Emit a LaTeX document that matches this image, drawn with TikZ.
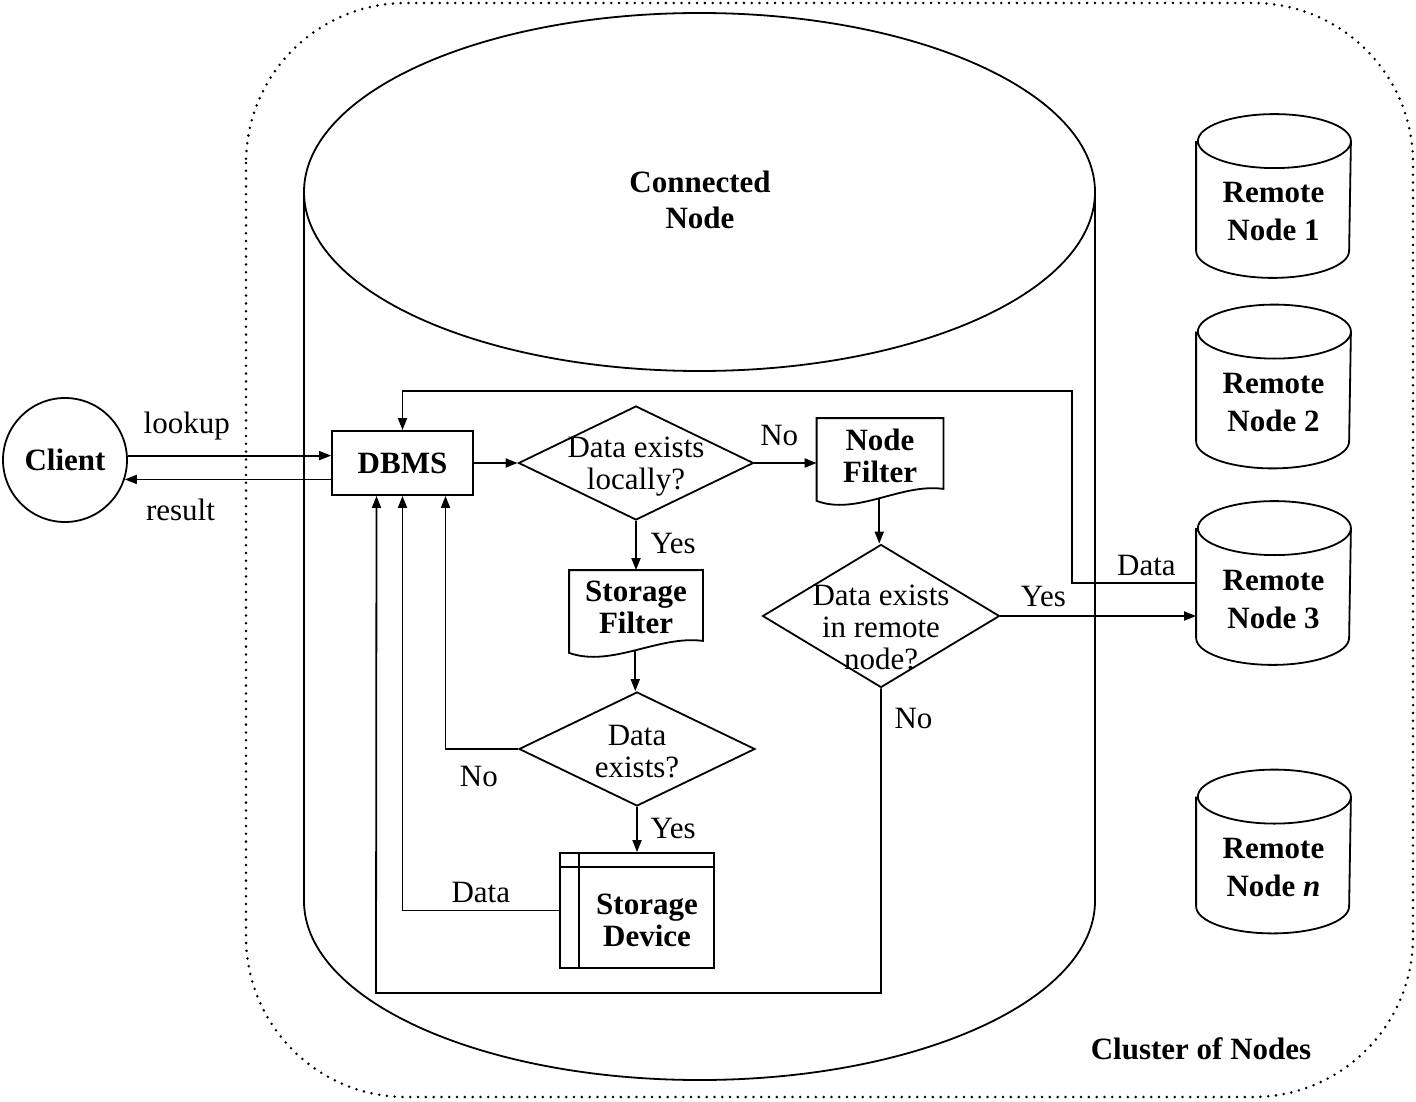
\documentclass[tikz,border=0pt]{standalone}
\usepackage{fontspec}
\setmainfont{Liberation Serif}
\usetikzlibrary{arrows.meta,
                positioning,
                shapes.geometric
            }

\begin{document}
\begin{tikzpicture}[x=0.5pt, y=-0.5pt, line width=0.9pt,
        font=\fontsize{15.5pt}{16pt}\selectfont,
        arr/.style={-{Triangle[length=6pt, width=4.5pt]}},
        bold/.style={font=\fontsize{15.5pt}{16pt}\selectfont\bfseries, align=center},
        title/.style={font=\fontsize{15.5pt}{19pt}\selectfont\bfseries, align=center},
        txt/.style={align=center},
        decision/.style={diamond, draw, inner sep=0pt},
        remote/.style={minimum width=76.5pt, minimum height=54pt, inner sep=0pt}]
            \useasboundingbox (0,0) rectangle (1416,1101);

            % cluster of nodes
            \draw[rounded corners=80pt, line width=1.4pt, line cap=round, dash pattern=on 0pt off 3.9pt] (246,3) rectangle (1413,1097);
            \node[bold] (cluster) at (1201,1049) {Cluster of Nodes};

            % connected node
            \draw (699.5,192) ellipse [x radius=197.75pt, y radius=89.5pt];
            \draw (304,192) -- (304,901) arc[start angle=180, end angle=360, x radius=197.75pt, y radius=89.5pt] -- (1095,192);
            \node[bold, font=\fontsize{15.5pt}{18pt}\selectfont\bfseries] (connected) at (700,200) {Connected\\Node};

            % remote nodes
            \foreach \n/\y/\lab in {1/196/1, 2/386.5/2, 3/583/3, n/851.5/\textit{n}} {
                \node[remote, label={[title, yshift=-8pt]center:Remote\\Node \lab}] (rn\n) at (1273.5,\y) {};
                \draw (rn\n.north west) -- (rn\n.south west)
                    arc[start angle=180, end angle=360, x radius=38.25pt, y radius=13.5pt] -- (rn\n.north east)
                    arc[start angle=0, end angle=180, x radius=38.25pt, y radius=13.5pt]
                    arc[start angle=180, end angle=360, x radius=38.25pt, y radius=13.5pt];
            }

            \node[draw, circle, minimum size=62pt, inner sep=0pt, bold] (client) at (65,460) {Client};
            \node[draw, minimum width=70.5pt, minimum height=32pt, bold] (dbms) at (402.5,463) {DBMS};

            \node[decision, minimum width=117.5pt, minimum height=57pt, label={[txt, yshift=-2pt]center:Data exists\\locally?}] (local) at (636,463) {};
            \node[bold, minimum width=62.5pt, minimum height=40.5pt, inner sep=0pt, text depth=4pt] (nodefilter) at (880,459.5) {Node\\Filter};
            \draw (nodefilter.north west) -- (nodefilter.north east) -- ([yshift=6pt]nodefilter.south east)
                .. controls +(-42,-6) and +(40,15) .. (nodefilter.south west) coordinate[pos=0.5] (nfwave) -- cycle;
            \node[decision, minimum width=118.5pt, minimum height=71.5pt, label={[txt, yshift=-5.5pt]center:Data exists\\in remote\\node?}] (remote) at (881,616) {};

            \node[bold, minimum width=66pt, minimum height=40.5pt, inner sep=0pt, text depth=4pt] (storagefilter) at (636,611.5) {Storage\\Filter};
            \draw (storagefilter.north west) -- (storagefilter.north east) -- ([yshift=6pt]storagefilter.south east)
                .. controls +(-44,-6) and +(42,15) .. (storagefilter.south west) coordinate[pos=0.5] (sfwave) -- cycle;
            \node[decision, minimum width=118pt, minimum height=57pt, label={[txt, yshift=-1.5pt]center:Data\\exists?}] (exists) at (637,749) {};

            \node[draw, minimum width=77pt, minimum height=57.5pt] (device) at (637,910.5) {};
            \draw ([xshift=10pt]device.north west) -- ([xshift=10pt]device.south west);
            \draw ([yshift=-7.5pt]device.north west) -- ([yshift=-7.5pt]device.north east);
            \node[bold] (devicetext) at ([xshift=5pt, yshift=-4.75pt]device.center) {Storage\\Device};

            % connectors
            \draw[arr] (client.4) -- (client.4 -| dbms.west) node[pos=0.29, above=4pt] (lookup) {lookup};
            \draw[arr] (client.-18 -| dbms.west) -- (client.-18) node[pos=0.73, below=6pt] (result) {result};
            \draw[arr] (dbms.east) -- (dbms.east -| local.west);
            \draw[arr] (local.east) -- (local.east -| nodefilter.west) node[pos=0.4, above=5pt] (no1) {No};
            \draw[arr] (local.south) -- (storagefilter.north) node[pos=0.46, right=3.5pt] (yes1) {Yes};
            \draw[arr] (nfwave) -- (nfwave |- remote.north);
            \draw[arr] (sfwave) -- (sfwave |- exists.north);
            \draw[arr] (exists.south) -- (device.north) node[pos=0.47, right=3pt] (yes2) {Yes};
            \draw[arr] (exists.west) -| ([xshift=21.5pt]dbms.south) node[pos=0.27, below=5pt] (no2) {No};
            \draw[arr] (device.west) -| (dbms.south) node[pos=0.25, above=0pt] (data1) {Data};
            \coordinate (loopcorner) at (376,993);
            \draw[arr] (remote.south) |- (loopcorner) node[pos=0.05, right=3pt] (no3) {No} -- ([xshift=-13pt]dbms.south);
            \draw[arr] (remote.east) -- (remote.east -| rn3.west) node[pos=0.22, above=1pt] (yes3) {Yes};
            \coordinate (feedback) at (1072,391);
            \draw[arr] (rn3.west) -| (feedback) node[pos=0.2, above=0pt] (data2) {Data} -| (dbms.north);
        \end{tikzpicture}
\end{document}
